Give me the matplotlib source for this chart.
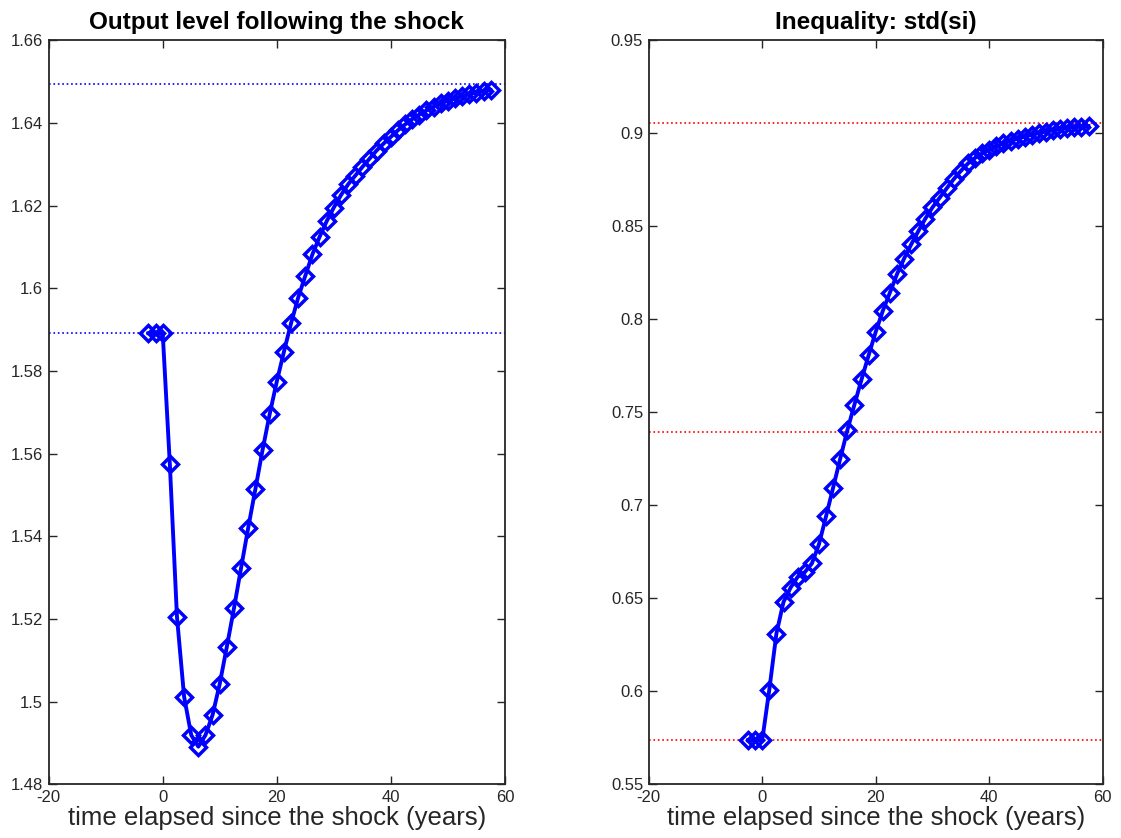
import numpy as np
import matplotlib
matplotlib.use("Agg")
import matplotlib.pyplot as plt

plt.rcParams['font.family'] = ['Liberation Sans', 'DejaVu Sans']
plt.rcParams['axes.unicode_minus'] = False

# time axis: 3 pre-shock periods, 46 post-shock periods, 1.25 years each
step = 1.25
n_pre = 3
n_post = 46

output_pre = 1.5891
output_post = [1.5574, 1.5205, 1.5012, 1.4919, 1.4891, 1.4919, 1.4968, 1.5043,
               1.5133, 1.5226, 1.5324, 1.5421, 1.5514, 1.5608, 1.5695, 1.5774,
               1.5846, 1.5915, 1.5977, 1.6030, 1.6082, 1.6124, 1.6162, 1.6195,
               1.6225, 1.6251, 1.6272, 1.6293, 1.6313, 1.6333, 1.6350, 1.6366,
               1.6382, 1.6396, 1.6409, 1.6420, 1.6430, 1.6439, 1.6447, 1.6453,
               1.6459, 1.6464, 1.6469, 1.6473, 1.6476, 1.6479]
output_refs = [1.5891, 1.6493]

ineq_pre = 0.5737
ineq_post = [0.6009, 0.6310, 0.6480, 0.6557, 0.6615, 0.6640, 0.6687, 0.6790,
             0.6941, 0.7095, 0.7251, 0.7403, 0.7541, 0.7676, 0.7806, 0.7932,
             0.8045, 0.8143, 0.8242, 0.8326, 0.8402, 0.8473, 0.8541, 0.8601,
             0.8652, 0.8703, 0.8753, 0.8797, 0.8837, 0.8867, 0.8891, 0.8912,
             0.8930, 0.8945, 0.8958, 0.8970, 0.8981, 0.8991, 0.9000, 0.9008,
             0.9015, 0.9021, 0.9026, 0.9031, 0.9035, 0.9038]
ineq_refs = [0.5737, 0.7394, 0.9052]

t = step * np.arange(-(n_pre - 1), n_post + 1)
y_out = [output_pre] * n_pre + output_post
y_ineq = [ineq_pre] * n_pre + ineq_post

fig = plt.figure(figsize=(11.21, 8.38), dpi=100)
ax1 = fig.add_axes([0.0434, 0.0641, 0.407, 0.888])
ax2 = fig.add_axes([0.5787, 0.0641, 0.405, 0.888])

dark = '#262626'


def style(ax, ylim, yticks):
    ax.set_xlim(-20, 60)
    ax.set_ylim(*ylim)
    ax.set_xticks([-20, 0, 20, 40, 60])
    ax.set_yticks(yticks)
    ax.set_yticklabels([('%.2f' % v).rstrip('0').rstrip('.') for v in yticks])
    ax.tick_params(direction='in', length=6, width=1, top=True, right=True,
                   labelsize=12, colors=dark, pad=4)
    for s in ax.spines.values():
        s.set_color(dark)
        s.set_linewidth(1.3)
    ax.set_xlabel('time elapsed since the shock (years)', fontsize=18.5,
                  color=dark, labelpad=1)


for r in output_refs:
    ax1.axhline(r, color='blue', ls=':', lw=1.2)
ax1.plot(t, y_out, color='blue', lw=2.8, marker='D', markersize=8.5,
         mfc='none', mew=2.5)
ax1.set_title('Output level following the shock', fontsize=17.5,
              fontweight='bold', pad=8)
style(ax1, (1.48, 1.66), [1.48, 1.5, 1.52, 1.54, 1.56, 1.58, 1.6, 1.62, 1.64, 1.66])

for r in ineq_refs:
    ax2.axhline(r, color='red', ls=':', lw=1.2)
ax2.plot(t, y_ineq, color='blue', lw=2.8, marker='D', markersize=8.5,
         mfc='none', mew=2.5)
ax2.set_title('Inequality: std(si)', fontsize=17.5, fontweight='bold', pad=8)
style(ax2, (0.55, 0.95), [0.55, 0.6, 0.65, 0.7, 0.75, 0.8, 0.85, 0.9, 0.95])

fig.savefig('out.png', dpi=100)
